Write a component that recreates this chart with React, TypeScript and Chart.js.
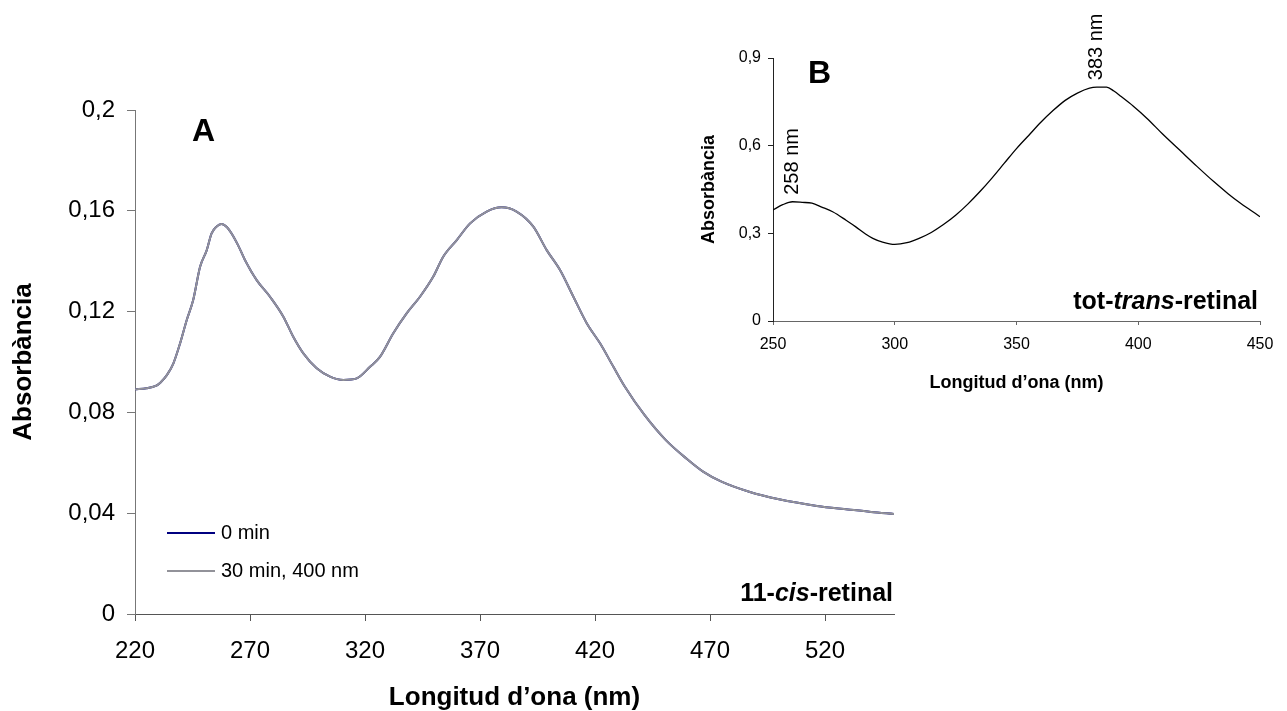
import React, { useEffect, useRef } from "react";
import { Chart, registerables } from "chart.js";

Chart.register(...registerables);

const FONT = '"Liberation Sans", Arial, Helvetica, sans-serif';

// ---------- Panel A: 11-cis-retinal ----------
const wavelengthA = [
  220, 225, 229, 231, 234, 236.7, 239.6, 242.5, 245.3, 248.3, 251.2, 253.3, 255.5, 257.7, 260, 262, 265,
  267.8, 272.9, 278.7, 284.5, 288.8, 293.2, 299, 304.8, 310.6, 316.4, 322.2, 326.5, 332.3, 338.1, 343.9,
  349.7, 354, 359.9, 365.7, 372.9, 379.4, 385.9, 393.2, 399, 404.8, 410.6, 416.4, 422.2, 428, 433, 441.5,
  450.8, 460, 467, 475, 487, 500, 516.5, 530, 540, 550,
];
const abs0min = [
  0.0892, 0.0896, 0.0905, 0.0918, 0.095, 0.0995, 0.1074, 0.1167, 0.1246, 0.1378, 0.1444, 0.151, 0.1538,
  0.1548, 0.1535, 0.151, 0.146, 0.1405, 0.1325, 0.1259, 0.118, 0.11, 0.1034, 0.0975, 0.0942, 0.0929, 0.0935,
  0.0981, 0.102, 0.1114, 0.1193, 0.1259, 0.1339, 0.1418, 0.1484, 0.155, 0.1597, 0.1614, 0.1597, 0.1537,
  0.1444, 0.1365, 0.1259, 0.1154, 0.1074, 0.0981, 0.0902, 0.079, 0.069, 0.0615, 0.0565, 0.0525, 0.0485,
  0.0455, 0.0429, 0.0415, 0.0405, 0.0397,
];
const abs30min = [
  0.0892, 0.0896, 0.0905, 0.0918, 0.095, 0.0995, 0.1074, 0.1167, 0.1246, 0.1378, 0.1444, 0.151, 0.1538,
  0.1548, 0.1535, 0.151, 0.146, 0.1405, 0.1325, 0.1259, 0.118, 0.11, 0.1034, 0.0975, 0.0942, 0.0929, 0.0935,
  0.0981, 0.102, 0.1114, 0.1193, 0.1259, 0.1339, 0.1418, 0.1484, 0.155, 0.1597, 0.1614, 0.1597, 0.1537,
  0.1444, 0.1365, 0.1259, 0.1154, 0.1074, 0.0981, 0.0902, 0.079, 0.069, 0.0615, 0.0565, 0.0525, 0.0485,
  0.0455, 0.0429, 0.0415, 0.0405, 0.0397,
];
const seriesNamesA = ["0 min", "30 min, 400 nm"];
const seriesColorsA = ["#000080", "#929299"];
const xTicksA = [220, 270, 320, 370, 420, 470, 520];
const yTicksA = [0, 0.04, 0.08, 0.12, 0.16, 0.2];
const yTickLabelsA = ["0", "0,04", "0,08", "0,12", "0,16", "0,2"];

// ---------- Panel B: all-trans-retinal ----------
const wavelengthB = [
  250, 254, 258, 262, 266, 270, 274.5, 280, 284, 288, 291, 295, 300, 305, 310, 315, 320, 325, 330, 335,
  340, 345, 350, 355, 360, 365, 370, 375, 380, 383, 387, 390, 393, 398, 403.5, 410, 417, 424, 431,
  437, 442, 446, 450,
];
const absTrans = [
  0.38, 0.398, 0.408, 0.406, 0.403, 0.39, 0.374, 0.345, 0.322, 0.298, 0.283, 0.27, 0.262, 0.268, 0.283,
  0.303, 0.33, 0.362, 0.4, 0.443, 0.49, 0.54, 0.59, 0.635, 0.68, 0.72, 0.755, 0.78, 0.797,
  0.8, 0.8, 0.787, 0.768, 0.735, 0.694, 0.64, 0.585, 0.53, 0.477, 0.435, 0.403, 0.38, 0.357,
];
const peaksB = [258, 383];
const xTicksB = [250, 300, 350, 400, 450];
const yTicksB = [0, 0.3, 0.6, 0.9];
const yTickLabelsB = ["0", "0,3", "0,6", "0,9"];

type Piece = { text: string; italic?: boolean };

function drawPieces(ctx: CanvasRenderingContext2D, pieces: Piece[], size: number, right: number, baseline: number) {
  const fontFor = (p: Piece) => `${p.italic ? "italic " : ""}bold ${size}px ${FONT}`;
  let total = 0;
  for (const p of pieces) {
    ctx.font = fontFor(p);
    total += ctx.measureText(p.text).width;
  }
  let x = right - total;
  ctx.textAlign = "left";
  ctx.textBaseline = "alphabetic";
  for (const p of pieces) {
    ctx.font = fontFor(p);
    ctx.fillText(p.text, x, baseline);
    x += ctx.measureText(p.text).width;
  }
}

function axisBase(opts: {
  min: number;
  max: number;
  ticks: number[];
  labels?: string[];
  fit: number;
  horizontal: boolean;
  tickSize: number;
  tickPad: number;
  tickLen: number;
  color: string;
  title: string;
  titleSize: number;
  titlePad: any;
}) {
  return {
    type: "linear" as const,
    min: opts.min,
    max: opts.max,
    afterBuildTicks: (s: any) => {
      s.ticks = opts.ticks.map((v) => ({ value: v }));
    },
    afterFit: (s: any) => {
      if (opts.horizontal) s.height = opts.fit;
      else s.width = opts.fit;
    },
    ticks: {
      autoSkip: false,
      maxRotation: 0,
      minRotation: 0,
      color: "#000",
      padding: opts.tickPad,
      font: { family: FONT, size: opts.tickSize },
      callback: (v: any) => {
        if (opts.labels) {
          const i = opts.ticks.findIndex((t) => Math.abs(t - Number(v)) < 1e-9);
          return i >= 0 ? opts.labels[i] : "";
        }
        return String(v);
      },
    },
    grid: {
      display: true,
      drawOnChartArea: false,
      drawTicks: true,
      tickLength: opts.tickLen,
      color: opts.color,
      lineWidth: 1,
    },
    border: { display: true, color: opts.color, width: 1 },
    title: {
      display: true,
      text: opts.title,
      color: "#000",
      font: { family: FONT, size: opts.titleSize, weight: "bold" as const },
      padding: opts.titlePad,
    },
  };
}

function ChartA() {
  const ref = useRef<HTMLCanvasElement | null>(null);
  useEffect(() => {
    if (!ref.current) return;
    const annot = {
      id: "annotA",
      afterDraw(chart: any) {
        const { ctx, chartArea } = chart;
        ctx.save();
        ctx.fillStyle = "#000";
        ctx.font = `bold 32px ${FONT}`;
        ctx.textAlign = "left";
        ctx.textBaseline = "alphabetic";
        ctx.fillText("A", chartArea.left + 57, chartArea.top + 31);
        drawPieces(
          ctx,
          [{ text: "11-" }, { text: "cis", italic: true }, { text: "-retinal" }],
          25,
          chartArea.right - 1,
          chartArea.bottom - 13.5
        );
        // legend
        const rows = [chartArea.bottom - 81, chartArea.bottom - 43];
        seriesNamesA.forEach((name, i) => {
          const y = rows[i];
          ctx.strokeStyle = seriesColorsA[i];
          ctx.lineWidth = 2;
          ctx.beginPath();
          ctx.moveTo(chartArea.left + 32, y);
          ctx.lineTo(chartArea.left + 80, y);
          ctx.stroke();
          ctx.fillStyle = "#000";
          ctx.font = `20px ${FONT}`;
          ctx.textBaseline = "middle";
          ctx.fillText(name, chartArea.left + 86, y);
        });
        ctx.restore();
      },
    };
    const chart = new Chart(ref.current, {
      type: "line",
      data: {
        datasets: [
          {
            label: seriesNamesA[0],
            data: wavelengthA.map((x, i) => ({ x, y: abs0min[i] })),
            borderColor: seriesColorsA[0],
            borderWidth: 2,
            pointRadius: 0,
            cubicInterpolationMode: "monotone",
            order: 1,
          },
          {
            label: seriesNamesA[1],
            data: wavelengthA.map((x, i) => ({ x, y: abs30min[i] })),
            borderColor: seriesColorsA[1],
            borderWidth: 2,
            pointRadius: 0,
            cubicInterpolationMode: "monotone",
            order: 0,
          },
        ],
      },
      options: {
        animation: false,
        responsive: false,
        maintainAspectRatio: false,
        layout: { padding: { top: 110, right: 26, bottom: 0, left: 0 } },
        plugins: { legend: { display: false }, tooltip: { enabled: false } },
        scales: {
          x: axisBase({
            min: 220,
            max: 550,
            ticks: xTicksA,
            fit: 97,
            horizontal: true,
            tickSize: 24,
            tickPad: 16,
            tickLen: 7,
            color: "#555",
            title: "Longitud d’ona (nm)",
            titleSize: 26,
            titlePad: { top: 0, bottom: -2 },
          }),
          y: axisBase({
            min: 0,
            max: 0.2,
            ticks: yTicksA,
            labels: yTickLabelsA,
            fit: 135,
            horizontal: false,
            tickSize: 24,
            tickPad: 12,
            tickLen: 8,
            color: "#777",
            title: "Absorbància",
            titleSize: 26,
            titlePad: { top: 8, bottom: 0 },
          }),
        },
      },
      plugins: [annot],
    } as any);
    return () => chart.destroy();
  }, []);
  return (
    <canvas
      ref={ref}
      width={920}
      height={711}
      style={{ position: "absolute", left: 0, top: 0, width: 920, height: 711 }}
    />
  );
}

function ChartB() {
  const ref = useRef<HTMLCanvasElement | null>(null);
  useEffect(() => {
    if (!ref.current) return;
    const annot = {
      id: "annotB",
      afterDraw(chart: any) {
        const { ctx, chartArea, scales } = chart;
        ctx.save();
        ctx.fillStyle = "#000";
        ctx.font = `bold 32px ${FONT}`;
        ctx.textAlign = "left";
        ctx.textBaseline = "alphabetic";
        ctx.fillText("B", chartArea.left + 35, chartArea.top + 25);
        drawPieces(
          ctx,
          [{ text: "tot-" }, { text: "trans", italic: true }, { text: "-retinal" }],
          25,
          chartArea.right - 2,
          chartArea.bottom - 12
        );
        // peak labels, rotated
        peaksB.forEach((p) => {
          let idx = 0;
          wavelengthB.forEach((w, i) => {
            if (Math.abs(w - p) < Math.abs(wavelengthB[idx] - p)) idx = i;
          });
          const px = scales.x.getPixelForValue(p);
          const py = scales.y.getPixelForValue(absTrans[idx]);
          ctx.save();
          ctx.translate(px, py - 7);
          ctx.rotate(-Math.PI / 2);
          ctx.font = `20px ${FONT}`;
          ctx.textAlign = "left";
          ctx.textBaseline = "middle";
          ctx.fillText(`${p} nm`, 0, 0);
          ctx.restore();
        });
        ctx.restore();
      },
    };
    const chart = new Chart(ref.current, {
      type: "line",
      data: {
        datasets: [
          {
            label: "tot-trans-retinal",
            data: wavelengthB.map((x, i) => ({ x, y: absTrans[i] })),
            borderColor: "#000",
            borderWidth: 1.3,
            pointRadius: 0,
            cubicInterpolationMode: "monotone",
          },
        ],
      },
      options: {
        animation: false,
        responsive: false,
        maintainAspectRatio: false,
        layout: { padding: { top: 58, right: 27, bottom: 0, left: 0 } },
        plugins: { legend: { display: false }, tooltip: { enabled: false } },
        scales: {
          x: axisBase({
            min: 250,
            max: 450,
            ticks: xTicksB,
            fit: 79,
            horizontal: true,
            tickSize: 16,
            tickPad: 10,
            tickLen: 4,
            color: "#666",
            title: "Longitud d’ona (nm)",
            titleSize: 18,
            titlePad: { top: 0, bottom: 6.5 },
          }),
          y: axisBase({
            min: 0,
            max: 0.9,
            ticks: yTicksB,
            labels: yTickLabelsB,
            fit: 93,
            horizontal: false,
            tickSize: 16,
            tickPad: 7,
            tickLen: 5,
            color: "#222",
            title: "Absorbància",
            titleSize: 18,
            titlePad: { top: 18, bottom: 0 },
          }),
        },
      },
      plugins: [annot],
    } as any);
    return () => chart.destroy();
  }, []);
  return (
    <canvas
      ref={ref}
      width={607}
      height={400}
      style={{ position: "absolute", left: 680, top: 0, width: 607, height: 400 }}
    />
  );
}

export default function App() {
  return (
    <div
      style={{
        position: "fixed",
        left: 0,
        top: 0,
        width: 1287,
        height: 711,
        background: "#fff",
        overflow: "hidden",
      }}
    >
      <ChartA />
      <ChartB />
    </div>
  );
}
